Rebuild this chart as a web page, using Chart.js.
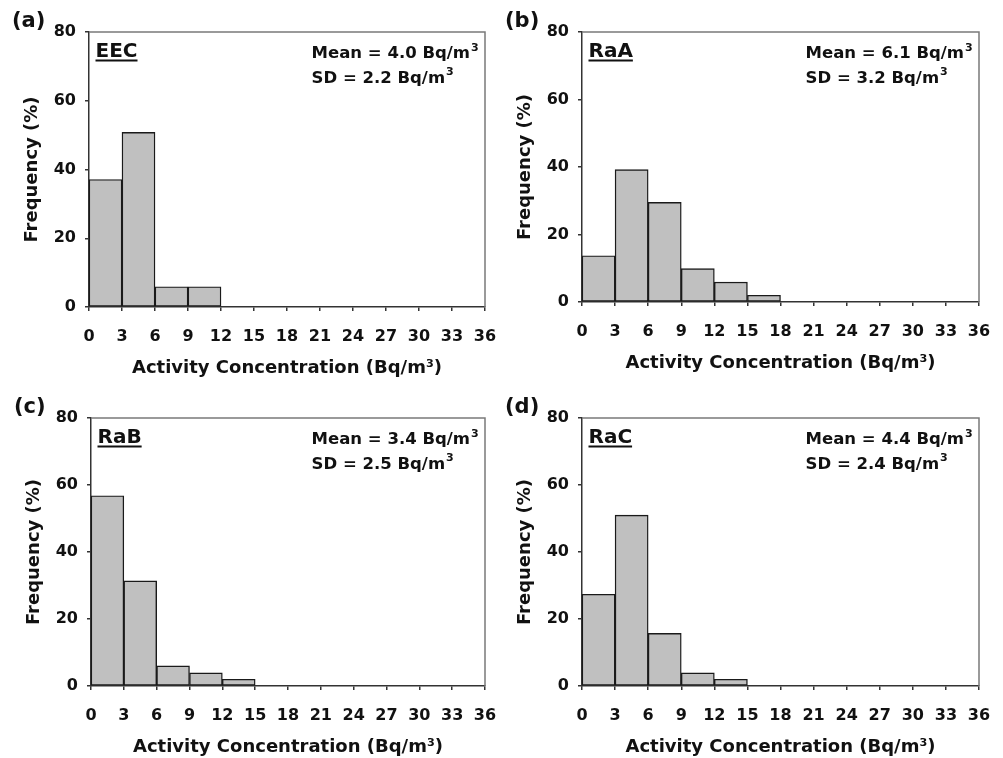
<!DOCTYPE html>
<html>
<head>
<meta charset="utf-8">
<script src="https://cdn.jsdelivr.net/npm/chart.js@4.4.1/dist/chart.umd.min.js"></script>
<style>
  body { margin: 0; background: #fff; }
  .panel { position: absolute; }
</style>
</head>
<body>
<canvas id="panelA" class="panel" width="500" height="379" style="left:0;top:0"></canvas>
<canvas id="panelB" class="panel" width="503" height="379" style="left:500px;top:0"></canvas>
<canvas id="panelC" class="panel" width="500" height="379" style="left:0;top:379px"></canvas>
<canvas id="panelD" class="panel" width="503" height="379" style="left:500px;top:379px"></canvas>
<script>
// histogram bins (Bq/m3), width 3
const binStarts = [0, 3, 6, 9, 12, 15, 18, 21, 24, 27, 30, 33];
const binWidth = 3;
const xTicks = [0, 3, 6, 9, 12, 15, 18, 21, 24, 27, 30, 33, 36];
const yTicks = [0, 20, 40, 60, 80];

// frequency (%) per bin
const eecFreq = [37.1, 50.8, 5.9, 5.9, 0, 0, 0, 0, 0, 0, 0, 0];
const raAFreq = [13.7, 39.2, 29.5, 9.9, 5.9, 2.0, 0, 0, 0, 0, 0, 0];
const raBFreq = [56.8, 31.4, 6.0, 3.9, 2.0, 0, 0, 0, 0, 0, 0, 0];
const raCFreq = [27.4, 51.0, 15.7, 3.9, 2.0, 0, 0, 0, 0, 0, 0, 0];

const panelLetters = ["(a)", "(b)", "(c)", "(d)"];
const seriesNames = ["EEC", "RaA", "RaB", "RaC"];
const meanValues = ["4.0", "6.1", "3.4", "4.4"];
const sdValues = ["2.2", "3.2", "2.5", "2.4"];

const seriesData = [eecFreq, raAFreq, raBFreq, raCFreq];

// where each plot box sits inside its canvas
const layouts = [
    { id: "panelA", w: 500, h: 379, left: 89, top: 32, right: 485, bottom: 307 },
    { id: "panelB", w: 503, h: 379, left: 82, top: 32, right: 479, bottom: 302 },
    { id: "panelC", w: 500, h: 379, left: 91, top: 39, right: 485, bottom: 307 },
    { id: "panelD", w: 503, h: 379, left: 82, top: 39, right: 479, bottom: 307 }
];

const INK = "#111";
const TITLE_FONT = { family: "'DejaVu Sans'", size: 18, weight: "bold" };
const TICK_FONT = { family: "'DejaVu Sans'", size: 16, weight: "bold" };
const X_AXIS_H = 72;

function drawWithSup(ctx, text, x, y) {
    ctx.font = "bold 16.5px 'DejaVu Sans'";
    ctx.fillText(text, x, y);
    const w = ctx.measureText(text).width;
    ctx.font = "bold 11px 'DejaVu Sans'";
    ctx.fillText("3", x + w + 1, y - 7.5);
    return w + 1 + ctx.measureText("3").width;
}

const annotate = {
    id: "annotate",
    afterDraw(chart, args, opts) {
        const { ctx, chartArea: a } = chart;
        const i = opts.index;
        ctx.save();

        // light frame on top and right
        ctx.strokeStyle = "#7a7a7a";
        ctx.lineWidth = 1.5;
        ctx.beginPath();
        ctx.moveTo(a.left, a.top);
        ctx.lineTo(a.right, a.top);
        ctx.lineTo(a.right, a.bottom);
        ctx.stroke();

        ctx.fillStyle = INK;
        ctx.textBaseline = "middle";
        ctx.textAlign = "left";
        ctx.font = "bold 21px 'DejaVu Sans'";
        ctx.fillText(panelLetters[i], a.left - 77, a.top - 10);

        // underlined series name
        ctx.textBaseline = "alphabetic";
        ctx.font = "bold 20px 'DejaVu Sans'";
        const nx = a.left + 6.5, ny = a.top + 24.5;
        ctx.fillText(seriesNames[i], nx, ny);
        const nw = ctx.measureText(seriesNames[i]).width;
        ctx.fillRect(nx, ny + 3, nw, 2);

        // mean / sd block
        const meanText = "Mean = " + meanValues[i] + " Bq/m";
        const sdText = "SD = " + sdValues[i] + " Bq/m";
        ctx.font = "bold 16.5px 'DejaVu Sans'";
        const mw = ctx.measureText(meanText).width + 9;
        const mx = a.right - 6 - mw;
        drawWithSup(ctx, meanText, mx, a.top + 26);
        drawWithSup(ctx, sdText, mx, a.top + 50.5);

        ctx.restore();
    }
};

layouts.forEach((L, i) => {
    const values = seriesData[i];
    const points = binStarts.map((s, k) => ({ x: s + binWidth / 2, y: values[k] }));
    const yTitlePad = (L.left - 57) - TITLE_FONT.size * 1.2 / 2;

    new Chart(document.getElementById(L.id), {
        type: "bar",
        data: {
            datasets: [{
                data: points,
                backgroundColor: "#c0c0c0",
                borderColor: "#1a1a1a",
                borderWidth: 1.4,
                borderSkipped: false,
                categoryPercentage: 1,
                barPercentage: 1
            }]
        },
        options: {
            responsive: false,
            animation: false,
            events: [],
            layout: {
                padding: { left: 0, top: L.top, right: L.w - L.right, bottom: L.h - L.bottom - X_AXIS_H }
            },
            plugins: {
                legend: { display: false },
                tooltip: { enabled: false },
                annotate: { index: i }
            },
            scales: {
                x: {
                    type: "linear",
                    min: 0,
                    max: 36,
                    offset: false,
                    afterBuildTicks: s => { s.ticks = xTicks.map(v => ({ value: v })); },
                    afterFit: s => { s.height = X_AXIS_H; s.paddingLeft = 0; s.paddingRight = 0; },
                    grid: { offset: false, drawOnChartArea: false, drawTicks: true, tickLength: 4, color: "#333", lineWidth: 1.5 },
                    border: { display: true, color: "#333", width: 1.5 },
                    ticks: { color: INK, font: TICK_FONT, padding: 16, maxRotation: 0, autoSkip: false },
                    title: {
                        display: true,
                        text: "Activity Concentration (Bq/m\u00b3)",
                        color: INK,
                        font: TITLE_FONT,
                        padding: { top: 0, bottom: 0 }
                    }
                },
                y: {
                    min: 0,
                    max: 80,
                    afterBuildTicks: s => { s.ticks = yTicks.map(v => ({ value: v })); },
                    afterFit: s => { s.width = L.left; s.paddingTop = 0; s.paddingBottom = 0; },
                    grid: { drawOnChartArea: false, drawTicks: true, tickLength: 4, color: "#333", lineWidth: 1.5 },
                    border: { display: true, color: "#333", width: 1.5 },
                    ticks: { color: INK, font: TICK_FONT, padding: 9 },
                    title: {
                        display: true,
                        text: "Frequency (%)",
                        color: INK,
                        font: TITLE_FONT,
                        padding: { top: yTitlePad, bottom: 0 }
                    }
                }
            }
        },
        plugins: [annotate]
    });
});
</script>
</body>
</html>
